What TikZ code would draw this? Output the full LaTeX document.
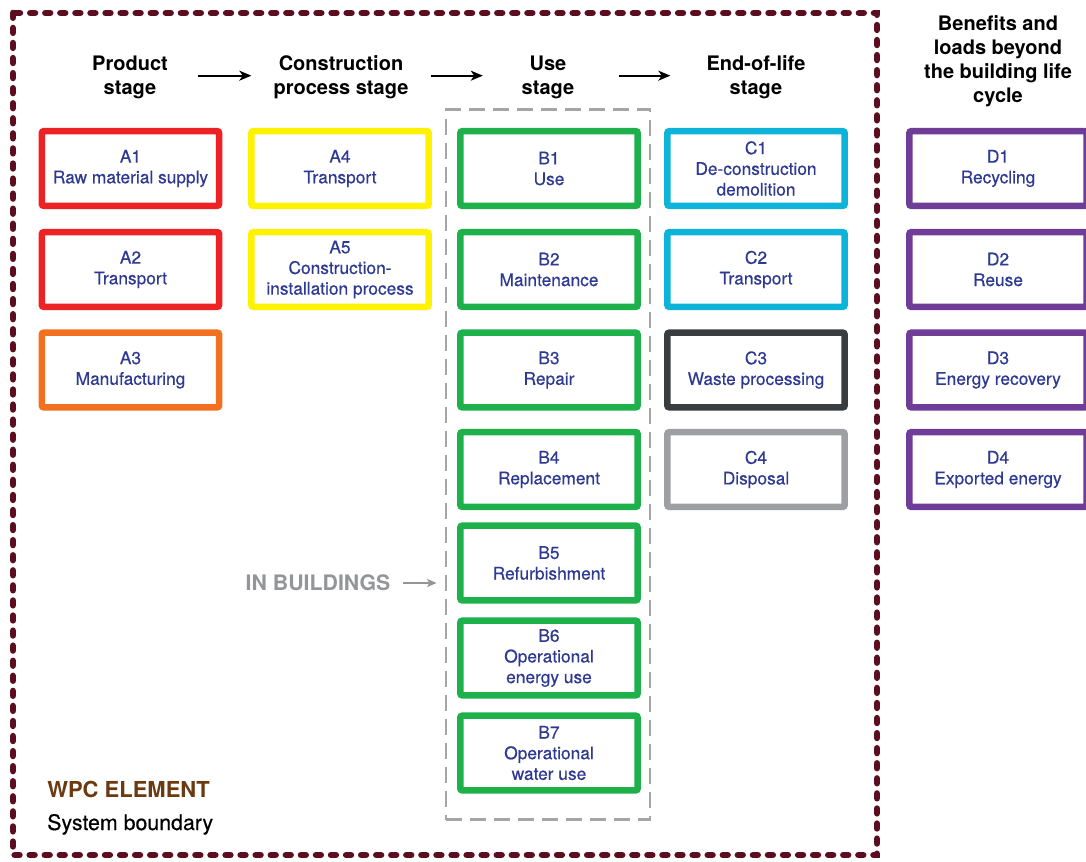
\documentclass[tikz,border=0pt]{standalone}
\usepackage{fontspec}
\setmainfont{TeX Gyre Heros}
\newfontfamily\boxfont[FakeBold=0.5]{TeX Gyre Heros}
\usetikzlibrary{arrows.meta, calc}

\definecolor{bndmaroon}{HTML}{5B0E1F}
\definecolor{txtblue}{HTML}{2E3A92}
\definecolor{boxred}{HTML}{ED2224}
\definecolor{boxyellow}{HTML}{FFF200}
\definecolor{boxorange}{HTML}{F37021}
\definecolor{boxgreen}{HTML}{1DB04B}
\definecolor{boxcyan}{HTML}{0DB3D9}
\definecolor{boxdark}{HTML}{3A3D40}
\definecolor{boxgray}{HTML}{9D9FA2}
\definecolor{boxpurple}{HTML}{6F3C98}
\definecolor{wpcbrown}{HTML}{6B3A10}
\definecolor{inbgray}{HTML}{939598}

\tikzset{
    stagebox/.style={draw=#1, line width=4.9pt, rounded corners=1.5pt, minimum width=133pt, minimum height=56pt,
        inner sep=0pt, align=center, text=txtblue, font=\boxfont\fontsize{13}{15.5}\selectfont},
    stagehead/.style={align=center, inner sep=0pt, font=\fontsize{15}{18}\selectfont\bfseries},
    headarrow/.style={-{Stealth[length=9pt,width=7.5pt,inset=2.5pt]}, line width=1.3pt},
    usegroup/.style={draw=inbgray!85, line width=2.2pt, dash pattern=on 12pt off 6pt, minimum width=153pt, minimum height=533pt, inner sep=0pt},
    sysbound/.style={draw=bndmaroon, line width=5pt, line cap=round, dash pattern=on 3.5pt off 7.8pt}
}

\begin{document}
\begin{tikzpicture}[x=0.75pt, y=-0.75pt]
    \useasboundingbox (0,0) rectangle (1086,861);

    \draw[sysbound] (13,13) rectangle (877,855);
    \node[usegroup] (usegrp) at (548,464.5) {};

    \node[stagehead] (prod) at (130,77) {Product\\stage};
    \node[stagehead] (constr) at (341,77) {Construction\\process stage};
    \node[stagehead] (use) at (548,77) {Use\\stage};
    \node[stagehead] (eol) at (756,77) {End-of-life\\stage};
    \node[stagehead] (beyond) at (998,61) {Benefits and\\loads beyond\\the building life\\cycle};

    \draw[headarrow, shorten <=22.5pt, shorten >=16.5pt] ([yshift=1pt]prod.east) -- ([yshift=1pt]constr.west);
    \draw[headarrow, shorten <=16.5pt, shorten >=29pt] ([yshift=1pt]constr.east) -- ([yshift=1pt]use.west);
    \draw[headarrow, shorten <=33pt, shorten >=27pt] ([yshift=1pt]use.east) -- ([yshift=1pt]eol.west);

    \node[stagebox=boxred] (A1) at (130.5,168.5) {A1\\Raw material supply};
    \node[stagebox=boxred] (A2) at (130.5,269.5) {A2\\Transport};
    \node[stagebox=boxorange] (A3) at (130.5,370) {A3\\Manufacturing};

    \node[stagebox=boxyellow] (A4) at (340,168.5) {A4\\Transport};
    \node[stagebox=boxyellow] (A5) at (340,269.5) {A5\\Construction-\\installation process};

    \node[stagebox=boxgreen] (B1) at (549,168.5) {B1\\Use};
    \node[stagebox=boxgreen] (B2) at (549,269.5) {B2\\Maintenance};
    \node[stagebox=boxgreen] (B3) at (549,370) {B3\\Repair};
    \node[stagebox=boxgreen] (B4) at (549,469.5) {B4\\Replacement};
    \node[stagebox=boxgreen] (B5) at (549,563) {B5\\Refurbishment};
    \node[stagebox=boxgreen] (B6) at (549,658) {B6\\Operational\\energy use};
    \node[stagebox=boxgreen] (B7) at (549,753) {B7\\Operational\\water use};

    \node[stagebox=boxcyan] (C1) at (756,168.5) {C1\\De-construction\\demolition};
    \node[stagebox=boxcyan] (C2) at (756,269.5) {C2\\Transport};
    \node[stagebox=boxdark] (C3) at (756,370) {C3\\Waste processing};
    \node[stagebox=boxgray] (C4) at (756,469.5) {C4\\Disposal};

    \node[stagebox=boxpurple] (D1) at (998,168.5) {D1\\Recycling};
    \node[stagebox=boxpurple] (D2) at (998,269.5) {D2\\Reuse};
    \node[stagebox=boxpurple] (D3) at (998,370) {D3\\Energy recovery};
    \node[stagebox=boxpurple] (D4) at (998,469.5) {D4\\Exported energy};

    \node[inner sep=0pt, text=inbgray, font=\fontsize{16}{18}\selectfont\bfseries] (inb) at (318,583) {IN BUILDINGS};
    \draw[-{Stealth[length=7pt,width=6pt,inset=1.5pt]}, draw=inbgray, line width=1.2pt, shorten <=9pt, shorten >=6pt] (inb.east) -- (inb.east -| usegrp.west);

    \node[anchor=base west, inner sep=0pt, text=wpcbrown, font=\fontsize{16.5}{18}\selectfont\bfseries] (wpc) at (47,797) {WPC ELEMENT};
    \node[anchor=base west, inner sep=0pt, font=\boxfont\fontsize{16}{18}\selectfont] (sysb) at (47,830) {System boundary};
\end{tikzpicture}
\end{document}
